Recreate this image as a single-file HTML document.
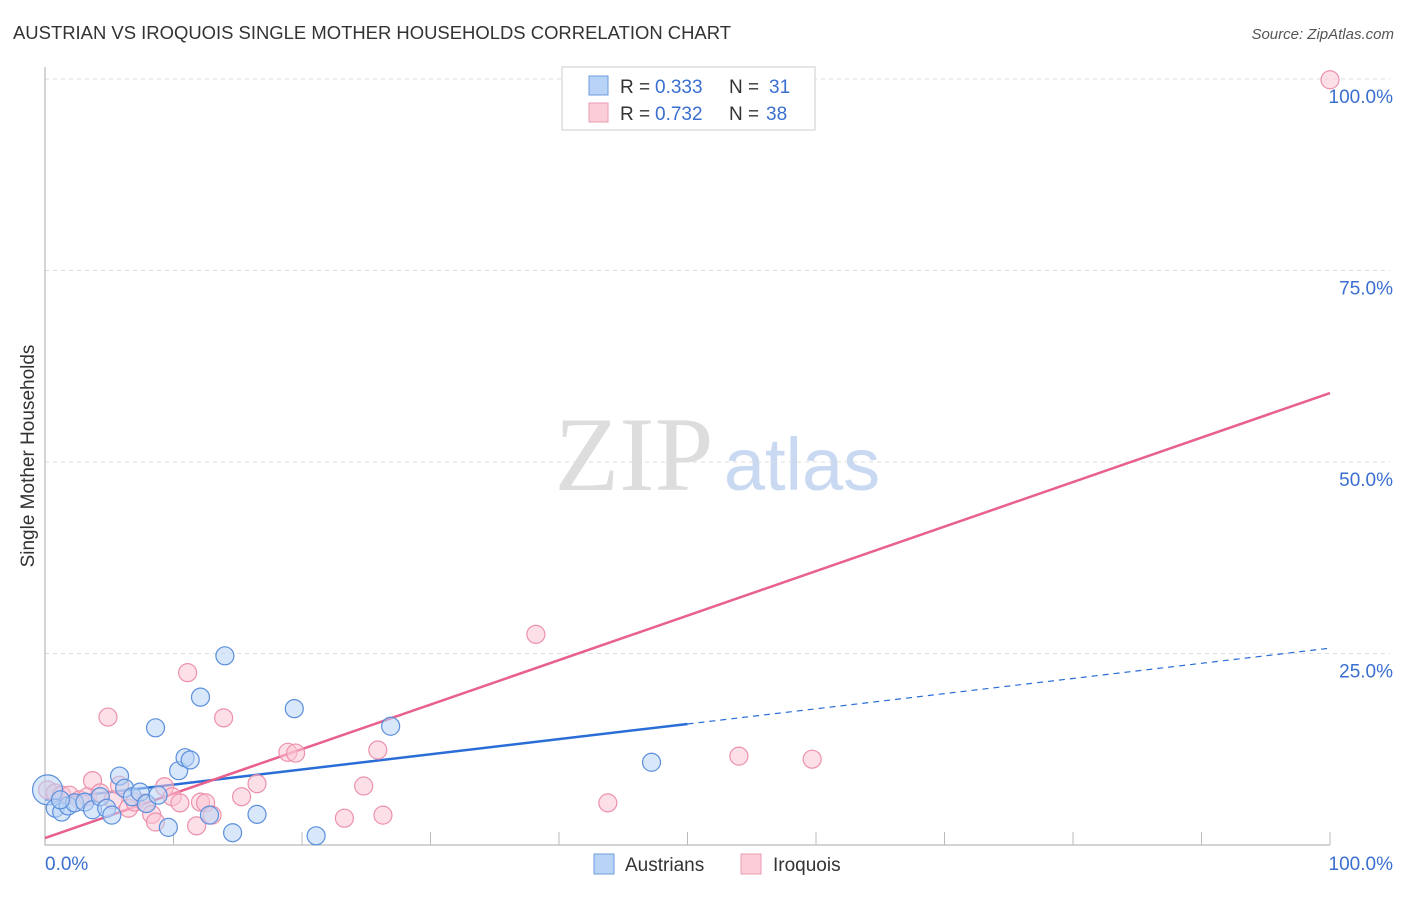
<!DOCTYPE html>
<html><head><meta charset="utf-8"><style>
body{margin:0;background:#fff;font-family:"Liberation Sans",sans-serif}
</style></head><body>
<svg id="chart" width="1406" height="892" xmlns="http://www.w3.org/2000/svg" font-family="Liberation Sans, sans-serif">
<text x="13" y="39" font-size="18" fill="#333" textLength="718" lengthAdjust="spacingAndGlyphs">AUSTRIAN VS IROQUOIS SINGLE MOTHER HOUSEHOLDS CORRELATION CHART</text>
<text x="1394" y="39" font-size="15" fill="#555" font-style="italic" text-anchor="end">Source: ZipAtlas.com</text>
<text transform="translate(34,456) rotate(-90)" font-size="19" fill="#333" text-anchor="middle">Single Mother Households</text>
<g><text x="634" y="490" font-size="106" fill="#ddd" font-family="Liberation Serif, serif" text-anchor="middle">ZIP</text><text x="802" y="490" font-size="74" fill="#c9d9f2" text-anchor="middle">atlas</text></g>
<g id="grid"></g><g id="axes"></g><g id="lines"></g><g id="pts"></g>
<g>
<rect x="562" y="67" width="253" height="63" fill="#fff" stroke="#ccc"/>
<rect x="589" y="76" width="19" height="19" fill="#b8d3f5" stroke="#6d9be0"/>
<text x="620" y="93" font-size="19" fill="#333">R =</text><text x="655" y="93" font-size="19" fill="#3a6fd0">0.333</text>
<text x="729" y="93" font-size="19" fill="#333">N =</text><text x="769" y="93" font-size="19" fill="#3a6fd0">31</text>
<rect x="589" y="103" width="19" height="19" fill="#fbcdd9" stroke="#eb9ab1"/>
<text x="620" y="120" font-size="19" fill="#333">R =</text><text x="655" y="120" font-size="19" fill="#3a6fd0">0.732</text>
<text x="729" y="120" font-size="19" fill="#333">N =</text><text x="766" y="120" font-size="19" fill="#3a6fd0">38</text>
</g>
<g>
<rect x="594" y="854" width="20" height="20" fill="#b8d3f5" stroke="#6d9be0"/>
<text x="625" y="871" font-size="19" fill="#333">Austrians</text>
<rect x="741" y="854" width="20" height="20" fill="#fbcdd9" stroke="#eb9ab1"/>
<text x="773" y="871" font-size="19" fill="#333">Iroquois</text>
</g>
</svg>
<script>
const yTicks=[25,50,75,100];
const yTickLabels=["25.0%","50.0%","75.0%","100.0%"];
const xTicks=[0,10,20,30,40,50,60,70,80,90,100];
const xEndLabels=["0.0%","100.0%"];
const ausX=[0.2,0.8,1.3,1.8,2.3,3.1,3.7,4.3,4.8,5.2,5.8,6.2,6.8,7.4,7.9,8.6,8.8,9.6,10.4,10.9,11.3,12.1,12.8,14.0,14.6,16.5,19.4,21.1,26.9,47.2,1.2];
const ausY=[7.2,4.8,4.3,5.1,5.5,5.6,4.6,6.3,4.8,3.9,9.0,7.4,6.3,6.9,5.4,15.3,6.5,2.3,9.7,11.4,11.1,19.3,3.9,24.7,1.6,4.0,17.8,1.2,15.5,10.8,5.9];
const iroX=[0.2,0.8,1.3,1.9,2.7,3.3,3.7,4.3,4.9,5.3,5.8,6.5,7.0,7.8,8.3,8.6,9.3,9.9,10.5,11.1,11.8,12.1,12.5,13.0,13.9,15.3,16.5,18.9,19.5,23.3,24.8,25.9,26.3,38.2,43.8,54.0,59.7,100];
const iroY=[7.2,6.8,6.5,6.5,5.9,6.3,8.4,6.8,16.7,5.9,7.8,4.8,5.6,5.5,4.0,3.0,7.6,6.3,5.5,22.5,2.5,5.6,5.5,3.9,16.6,6.3,8.0,12.1,12.0,3.5,7.7,12.4,3.9,27.5,5.5,11.6,11.2,99.9];
const ausTrend=[5.9,25.7];
const ausTrendSolidEnd=50;
const iroTrend=[0.9,59.0];
const X=v=>45+v*12.85, Y=v=>845-v*7.66;
const NS="http://www.w3.org/2000/svg";
function mk(tag,attrs,parent){const e=document.createElementNS(NS,tag);for(const k in attrs)e.setAttribute(k,attrs[k]);document.getElementById(parent).appendChild(e);return e;}
yTicks.forEach((t,i)=>{
 const g=mk('line',{x1:45,x2:1390,y1:Y(t),y2:Y(t),stroke:'#ddd','stroke-dasharray':'4,4'},'grid');
 
 
 const l=mk('text',{x:1393,y:Y(t)+24,'font-size':19,fill:'#3a6fd0','text-anchor':'end'},'axes');
 l.textContent=yTickLabels[i];
 
 
});
const ax=mk('path',{d:`M45 67V845H1330`,stroke:'#aaa',fill:'none'},'axes');


xTicks.slice(1).forEach(t=>{
 const k=mk('line',{x1:X(t),x2:X(t),y1:832,y2:845,stroke:'#bbb'},'axes');
 
 
});
[[0,'start',45],[1,'end',1393]].forEach(([i,a,x])=>{
 const l=mk('text',{x:x,y:870,'font-size':19,fill:'#3a6fd0','text-anchor':a},'axes');
 l.textContent=xEndLabels[i];
 
 
});
function pts(xs,ys,fill,stroke,name){xs.forEach((x,i)=>{
 const c=mk('circle',{cx:X(x),cy:Y(ys[i]),r:(name==='austrian-point'&&i===0)?15:9,fill:fill,'fill-opacity':0.55,stroke:stroke,'stroke-width':1.2},'pts');
 
 
});}
pts(iroX,iroY,'#fbc4d3','#ec91ab','iroquois-point');
pts(ausX,ausY,'#b8d3f5','#5b8fdc','austrian-point');
const aAt=x=>ausTrend[0]+(ausTrend[1]-ausTrend[0])*x/100;
const t1=mk('line',{x1:X(0),y1:Y(aAt(0)),x2:X(ausTrendSolidEnd),y2:Y(aAt(ausTrendSolidEnd)),stroke:'#2a6dd6','stroke-width':2.5},'lines');


const t2=mk('line',{x1:X(ausTrendSolidEnd),y1:Y(aAt(ausTrendSolidEnd)),x2:X(100),y2:Y(aAt(100)),stroke:'#2a6dd6','stroke-width':1.2,'stroke-dasharray':'6,5'},'lines');


const t3=mk('line',{x1:X(0),y1:Y(iroTrend[0]),x2:X(100),y2:Y(iroTrend[1]),stroke:'#e8608c','stroke-width':2.5},'lines');


</script>
</body></html>
